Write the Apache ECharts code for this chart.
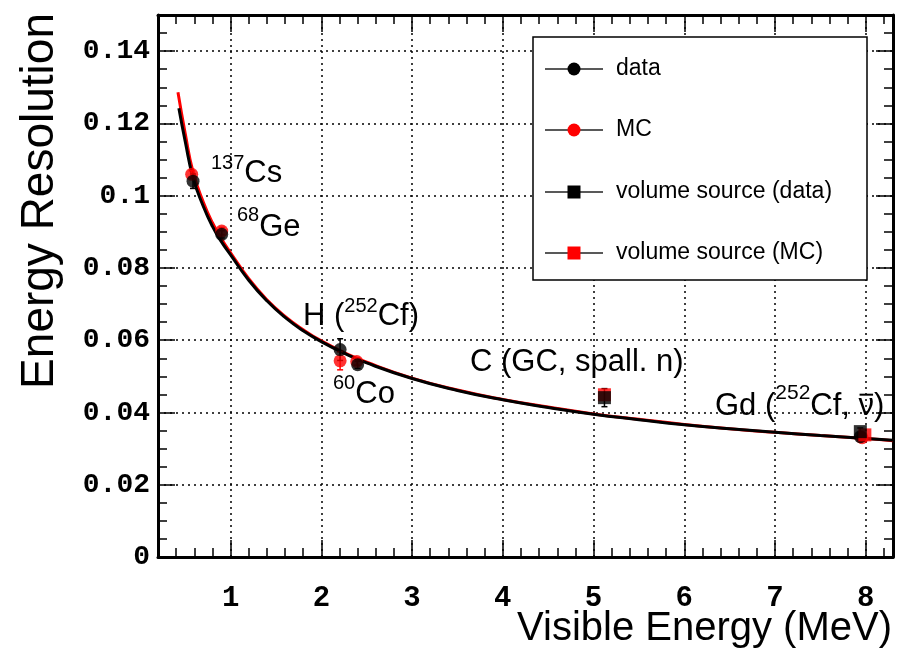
<!DOCTYPE html>
<html><head><meta charset="utf-8">
<script src="https://cdn.jsdelivr.net/npm/echarts@6/dist/echarts.min.js"></script>
<style>html,body{margin:0;padding:0;background:#fff}#c{width:901px;height:660px}</style>
</head><body><div id="c"></div>
<script>
// ---- tick values / labels ----
const xTickValues = [1, 2, 3, 4, 5, 6, 7, 8];
const xTickLabels = ['1', '2', '3', '4', '5', '6', '7', '8'];
const yTickValues = [0, 0.02, 0.04, 0.06, 0.08, 0.1, 0.12, 0.14];
const yTickLabels = ['0', '0.02', '0.04', '0.06', '0.08', '0.1', '0.12', '0.14'];

// ---- point data ----
const dataE   = [0.586, 0.902, 2.207, 2.400, 7.940];
const dataRes = [0.1040, 0.0893, 0.0574, 0.0532, 0.0333];
const dataErr = [0.0020, 0.0010, 0.0030, 0.0010, 0.0010];
const mcE     = [0.571, 0.902, 2.207, 2.390, 7.960];
const mcRes   = [0.1059, 0.0902, 0.0543, 0.0541, 0.0330];
const mcErr   = [0.0010, 0.0010, 0.0025, 0.0010, 0.0010];
const volDataE   = [5.12, 7.94];
const volDataRes = [0.0441, 0.0347];
const volDataErr = [0.0025, 0.0010];
const volMcE     = [5.12, 7.99];
const volMcRes   = [0.0449, 0.0338];

// ---- fitted curves ----
const dataCurveE   = [0.43, 0.5, 0.586, 0.7, 0.8, 0.9, 1.0, 1.2, 1.4, 1.6, 1.8, 2.0, 2.25, 2.5, 3.0, 3.5, 4.0, 4.5, 5.0, 5.5, 6.0, 6.5, 7.0, 7.5, 8.0, 8.3];
const dataCurveRes = [0.1242, 0.1150, 0.1050, 0.0970, 0.0915, 0.0872, 0.0836, 0.0766, 0.0709, 0.0663, 0.0626, 0.0596, 0.0564, 0.0537, 0.0494, 0.0461, 0.0435, 0.0414, 0.0395, 0.0380, 0.0366, 0.0355, 0.0345, 0.0336, 0.0328, 0.0323];
const mcCurveE   = [0.42, 0.5, 0.586, 0.7, 0.8, 0.9, 1.0, 1.2, 1.4, 1.6, 1.8, 2.0, 2.25, 2.5, 3.0, 3.5, 4.0, 4.5, 5.0, 5.5, 6.0, 6.5, 7.0, 7.5, 8.0, 8.3];
const mcCurveRes = [0.1286, 0.1172, 0.1066, 0.0982, 0.0925, 0.0880, 0.0842, 0.0770, 0.0712, 0.0666, 0.0629, 0.0598, 0.0566, 0.0539, 0.0495, 0.0462, 0.0436, 0.0415, 0.0396, 0.0381, 0.0367, 0.0355, 0.0345, 0.0336, 0.0328, 0.0322];

const legendNames   = ['data', 'MC', 'volume source (data)', 'volume source (MC)'];
const legendColors  = ['#000000', '#ff0000', '#000000', '#ff0000'];
const legendSymbols = ['circle', 'circle', 'rect', 'rect'];

const xMinorTicks = [];
for (let i = 2; i <= 41; i++) { if (i % 5 !== 0) xMinorTicks.push(i / 5); }
const yMinorTicks = [];
for (let i = 1; i <= 29; i++) { if (i % 4 !== 0) yMinorTicks.push(+(i * 0.005).toFixed(3)); }

const zip = (a, b) => a.map((v, i) => [v, b[i]]);
const lab = (vals, labels) => v => { const i = vals.findIndex(t => Math.abs(t - v) < 1e-9); return i >= 0 ? labels[i] : ''; };

const SANS = '"Liberation Sans", Arial, Helvetica, sans-serif';
const MONO = '"Liberation Mono", "Courier New", monospace';
const XMIN = 0.2, XMAX = 8.3, YMIN = 0, YMAX = 0.15;

function xAxisDef(pos, major) {
  return {
    type: 'value', position: pos, min: XMIN, max: XMAX,
    axisLine: { show: major, onZero: false, lineStyle: { color: '#000', width: 3 } },
    axisTick: { show: true, inside: true, length: major ? 17 : 9, customValues: major ? xTickValues : xMinorTicks, lineStyle: { color: '#000', width: 1.5 } },
    axisLabel: (major && pos === 'bottom') ? { show: true, customValues: xTickValues, formatter: lab(xTickValues, xTickLabels), fontFamily: MONO, fontWeight: 'bold', fontSize: 29, color: '#000', margin: 27 } : { show: false },
    splitLine: (major && pos === 'bottom') ? { show: true, lineStyle: { color: '#000', width: 1.5, type: [2, 4] } } : { show: false },
    minorTick: { show: false }
  };
}
function yAxisDef(pos, major) {
  return {
    type: 'value', position: pos, min: YMIN, max: YMAX,
    axisLine: { show: major, onZero: false, lineStyle: { color: '#000', width: 3 } },
    axisTick: { show: true, inside: true, length: major ? 17 : 9, customValues: major ? yTickValues : yMinorTicks, lineStyle: { color: '#000', width: 1.5 } },
    axisLabel: (major && pos === 'left') ? { show: true, customValues: yTickValues, formatter: lab(yTickValues, yTickLabels), fontFamily: MONO, fontWeight: 'bold', fontSize: 28, color: '#000', margin: 8 } : { show: false },
    splitLine: (major && pos === 'left') ? { show: true, lineStyle: { color: '#000', width: 1.5, type: [2, 4] } } : { show: false },
    minorTick: { show: false }
  };
}

function errorBarSeries(xs, ys, es, color) {
  return {
    type: 'custom', xAxisIndex: 0, yAxisIndex: 0, z: 3,
    data: xs.map((x, i) => [x, ys[i], es[i]]),
    renderItem: (params, api) => {
      const x = api.value(0), y = api.value(1), e = api.value(2);
      const lo = api.coord([x, y - e]), hi = api.coord([x, y + e]);
      const st = { stroke: color, lineWidth: 1.5 };
      return { type: 'group', children: [
        { type: 'line', shape: { x1: lo[0], y1: lo[1], x2: hi[0], y2: hi[1] }, style: st },
        { type: 'line', shape: { x1: lo[0] - 3, y1: lo[1], x2: lo[0] + 3, y2: lo[1] }, style: st },
        { type: 'line', shape: { x1: hi[0] - 3, y1: hi[1], x2: hi[0] + 3, y2: hi[1] }, style: st }
      ] };
    }
  };
}

// ---- annotation texts (superscripts as separate text runs) ----
const annotations = [
  { x: 211, base: 184, parts: [['137', 20, -14], ['Cs', 31, 0]] },
  { x: 237, base: 238, parts: [['68', 20, -16], ['Ge', 31, 0]] },
  { x: 303, base: 327, parts: [['H (', 31, 0], ['252', 20, -14], ['Cf)', 31, 0]] },
  { x: 333, base: 405, parts: [['60', 20, -15], ['Co', 31, 0]] },
  { x: 470, base: 373, parts: [['C (GC, spall. n)', 31, 0]] },
  { x: 715, base: 417, parts: [['Gd (', 31, 0], ['252', 21, -16], ['Cf, ', 31, 0], ['\u03BD', 31, 0, 'bar'], [')', 31, 0]] }
];
const mctx = document.createElement('canvas').getContext('2d');
const graphics = [];
annotations.forEach(a => {
  let cx = a.x;
  a.parts.forEach(([t, fs, dy, deco]) => {
    const font = fs + 'px ' + SANS;
    graphics.push({ type: 'text', x: cx, y: a.base + dy - 0.35 * fs, z: 50,
      style: { text: t, font: font, fill: '#000', textAlign: 'left', textVerticalAlign: 'middle' } });
    mctx.font = font;
    const w = mctx.measureText(t).width;
    if (deco === 'bar') {
      const yb = a.base - 0.72 * fs;
      graphics.push({ type: 'line', z: 50, shape: { x1: cx + 1, y1: yb, x2: cx + w - 1, y2: yb }, style: { stroke: '#000', lineWidth: 2 } });
    }
    cx += w;
  });
});

// axis titles
graphics.push({ type: 'text', x: 892, y: 629, z: 50,
  style: { text: 'Visible Energy (MeV)', font: '40px ' + SANS, fill: '#000', textAlign: 'right', textVerticalAlign: 'middle' } });
graphics.push({ type: 'text', x: 40, y: 13, rotation: Math.PI / 2, z: 50,
  style: { text: 'Energy Resolution', font: '46px ' + SANS, fill: '#000', textAlign: 'right', textVerticalAlign: 'middle' } });

// legend box
graphics.push({ type: 'rect', z: 100, shape: { x: 533, y: 37, width: 334, height: 243 }, style: { fill: '#fff', stroke: '#000', lineWidth: 1.5 } });
const legY = [69, 130, 192, 253];
legendNames.forEach((n, i) => {
  const y = legY[i];
  graphics.push({ type: 'line', z: 101, shape: { x1: 545, y1: y, x2: 603, y2: y }, style: { stroke: '#222', lineWidth: 1.5 } });
  if (legendSymbols[i] === 'circle') {
    graphics.push({ type: 'circle', z: 102, shape: { cx: 574, cy: y, r: 6.5 }, style: { fill: legendColors[i] } });
  } else {
    graphics.push({ type: 'rect', z: 102, shape: { x: 567.5, y: y - 6.5, width: 13, height: 13 }, style: { fill: legendColors[i] } });
  }
  graphics.push({ type: 'text', z: 102, x: 616, y: y, style: { text: n, font: '23px ' + SANS, fill: '#000', textAlign: 'left', textVerticalAlign: 'middle' } });
});

const chart = echarts.init(document.getElementById('c'), null, { renderer: 'canvas', width: 901, height: 660 });
chart.setOption({
  animation: false,
  backgroundColor: '#fff',
  grid: { left: 158, right: 8, top: 15, bottom: 103, containLabel: false },
  xAxis: [xAxisDef('bottom', true), xAxisDef('bottom', false), xAxisDef('top', true), xAxisDef('top', false)],
  yAxis: [yAxisDef('left', true), yAxisDef('left', false), yAxisDef('right', true), yAxisDef('right', false)],
  series: [
    { name: 'MC fit', type: 'line', xAxisIndex: 0, yAxisIndex: 0, z: 2, data: zip(mcCurveE, mcCurveRes), smooth: 0.5, showSymbol: false, symbol: 'none', lineStyle: { color: '#ff0000', width: 3 } },
    { name: 'data fit', type: 'line', xAxisIndex: 0, yAxisIndex: 0, z: 2, data: zip(dataCurveE, dataCurveRes), smooth: 0.5, showSymbol: false, symbol: 'none', lineStyle: { color: '#000000', width: 3 } },
    errorBarSeries(mcE, mcRes, mcErr, '#ff0000'),
    errorBarSeries(dataE, dataRes, dataErr, '#000000'),
    errorBarSeries(volDataE, volDataRes, volDataErr, '#000000'),
    { name: 'MC', type: 'scatter', xAxisIndex: 0, yAxisIndex: 0, z: 4, data: zip(mcE, mcRes), symbol: 'circle', symbolSize: 13, itemStyle: { color: '#ff0000' } },
    { name: 'data', type: 'scatter', xAxisIndex: 0, yAxisIndex: 0, z: 5, data: zip(dataE, dataRes), symbol: 'circle', symbolSize: 13, itemStyle: { color: '#000000' } },
    { name: 'volume source (MC)', type: 'scatter', xAxisIndex: 0, yAxisIndex: 0, z: 6, data: zip(volMcE, volMcRes), symbol: 'rect', symbolSize: 13, itemStyle: { color: '#ff0000' } },
    { name: 'volume source (data)', type: 'scatter', xAxisIndex: 0, yAxisIndex: 0, z: 7, data: zip(volDataE, volDataRes), symbol: 'rect', symbolSize: 13, itemStyle: { color: '#000000' } }
  ],
  graphic: graphics
});
</script></body></html>
